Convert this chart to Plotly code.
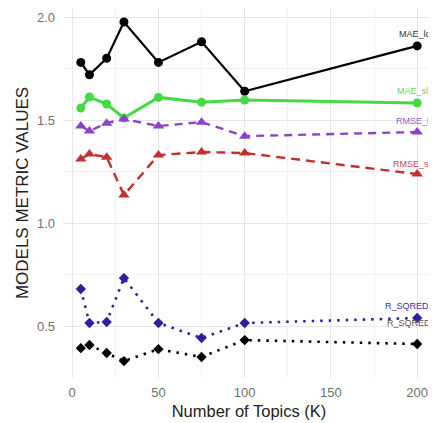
import plotly.graph_objects as go

topics = [5, 10, 20, 30, 50, 75, 100, 200]

mae_lda = [1.78, 1.72, 1.80, 1.976, 1.78, 1.88, 1.64, 1.86]
mae_slda = [1.558, 1.612, 1.578, 1.51, 1.61, 1.587, 1.597, 1.583]
rmse_lda = [1.471, 1.447, 1.485, 1.505, 1.471, 1.49, 1.422, 1.442]
rmse_slda = [1.311, 1.335, 1.32, 1.136, 1.33, 1.345, 1.34, 1.238]
rsq_slda = [0.680, 0.515, 0.52, 0.733, 0.515, 0.442, 0.515, 0.539]
rsq_lda = [0.393, 0.408, 0.369, 0.33, 0.388, 0.35, 0.432, 0.413]

x_ticks = [0, 50, 100, 150, 200]
y_ticks = [0.5, 1.0, 1.5, 2.0]
y_tick_labels = ["0.5", "1.0", "1.5", "2.0"]

series_names = ["MAE_lda", "MAE_slda", "RMSE_lda", "RMSE_slda", "R_SQRED_slda", "R_SQRED_lda"]
series_values = [mae_lda, mae_slda, rmse_lda, rmse_slda, rsq_slda, rsq_lda]
colors = ["#000000", "#45d945", "#8a44c8", "#c0302e", "#2e1f9e", "#000000"]
label_colors = ["#333333", "#5fdc5f", "#9a5cd0", "#c84a46", "#3d31a8", "#555555"]
dashes = ["solid", "solid", "8px,6px", "9px,6px", "2.5px,6px", "2.5px,6px"]
widths = [2.2, 3, 2.4, 2.4, 2.6, 2.6]
symbols = ["circle", "circle", "triangle-up", "triangle-up", "diamond", "diamond"]
msizes = [9, 9, 10, 10, 8, 8]
label_shift = [12, 12, 11, 10, 12, 21]

fig = go.Figure()
for name, vals, c, d, w, s, ms in zip(series_names, series_values, colors, dashes, widths, symbols, msizes):
    fig.add_trace(go.Scatter(
        x=topics, y=vals, mode="lines+markers", name=name,
        line=dict(color=c, dash=d, width=w),
        marker=dict(color=c, symbol=s, size=ms),
        showlegend=False, cliponaxis=False,
    ))

for name, vals, lc, ys in zip(series_names, series_values, label_colors, label_shift):
    fig.add_annotation(
        x=topics[-1], y=vals[-1], text=name, showarrow=False,
        xanchor="center", yanchor="middle", yshift=ys,
        font=dict(family="Liberation Sans, Arial", size=9, color=lc),
    )

grid_major = "#e6e6e6"
grid_minor = "#f2f2f2"
# The page body has an 8px margin; the figure starts 8px in and runs past the window's right edge.
fig.update_layout(
    width=436, height=415,
    margin=dict(l=56, r=10, t=0, b=45, autoexpand=False),
    paper_bgcolor="white", plot_bgcolor="white",
    font=dict(family="Liberation Sans, Arial", color="#222222"),
    xaxis=dict(
        range=[-4.75, 209.75], tickvals=x_ticks, automargin=False,
        showgrid=True, gridcolor=grid_major, gridwidth=1,
        minor=dict(tickvals=[25, 75, 125, 175], showgrid=True, gridcolor=grid_minor, gridwidth=1),
        zeroline=False, showline=False, ticks="", ticklabelstandoff=5,
        tickfont=dict(size=13, color="#707070"),
        title=dict(text="Number of Topics (K)", font=dict(size=16.5, color="#222222"), standoff=6),
    ),
    yaxis=dict(
        range=[0.248, 2.044], tickvals=y_ticks, ticktext=y_tick_labels, automargin=False,
        showgrid=True, gridcolor=grid_major, gridwidth=1,
        minor=dict(tickvals=[0.25, 0.75, 1.25, 1.75], showgrid=True, gridcolor=grid_minor, gridwidth=1),
        zeroline=False, showline=False, ticks="", ticklabelstandoff=8,
        tickfont=dict(size=13, color="#707070"),
        title=dict(text="MODELS METRIC VALUES", font=dict(size=17, color="#222222"), standoff=3),
    ),
)

fig.write_html("out.html")
